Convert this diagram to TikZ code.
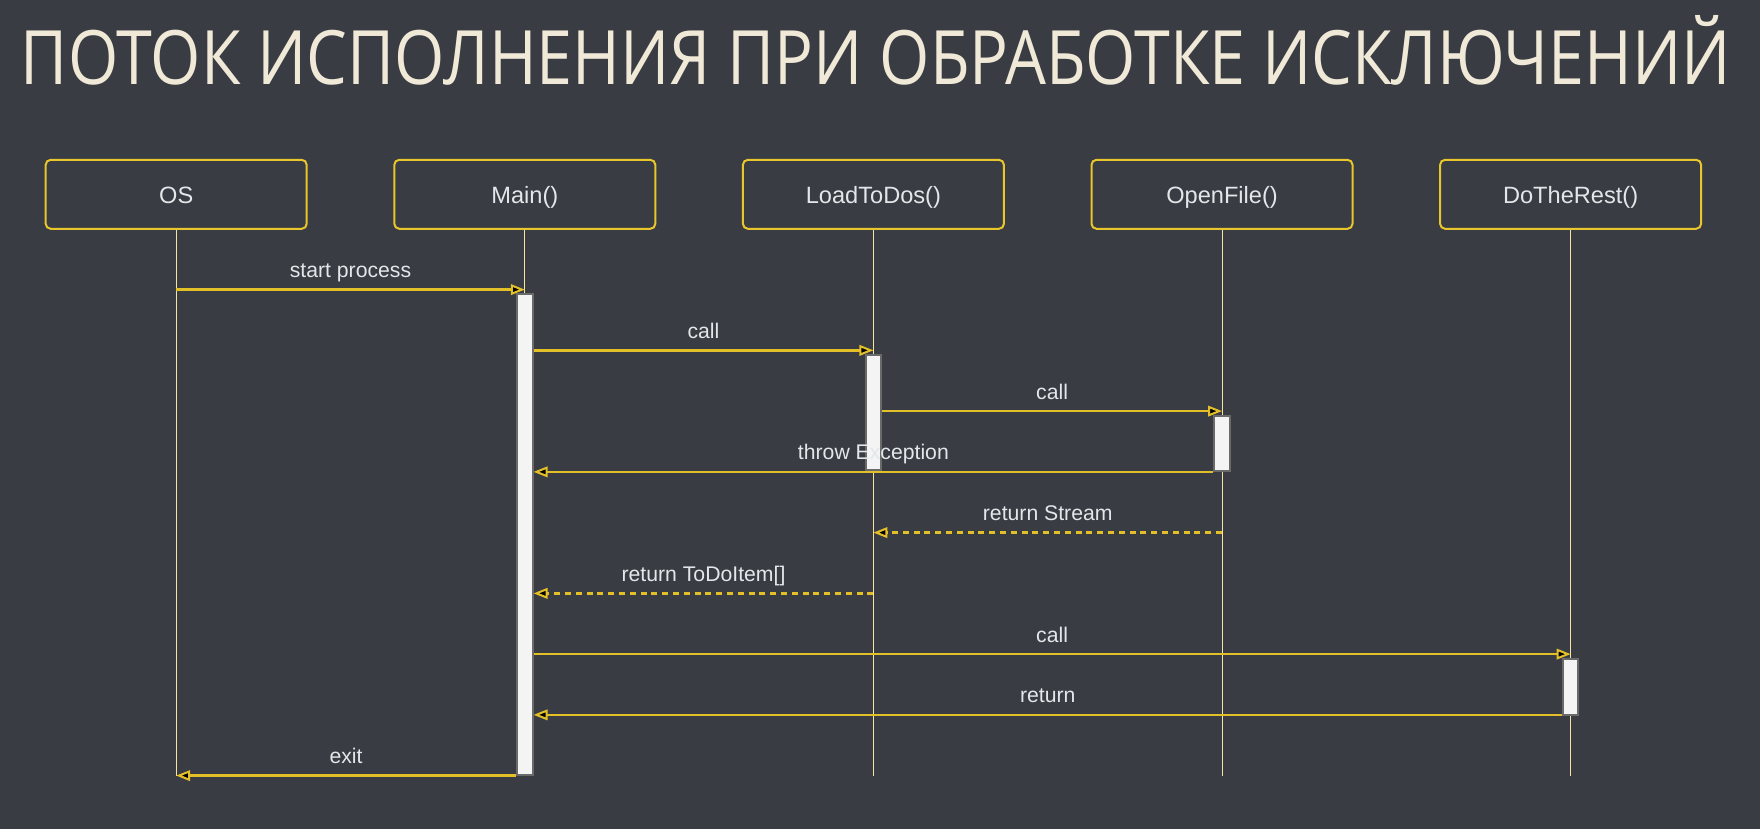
\documentclass[tikz,border=0pt]{standalone}
\usepackage{fontspec}
\usepackage{graphicx}
\usepackage{xcolor}
\setmainfont{Liberation Sans}
\newfontfamily\titlefont{Open Sans}
\usepackage{tikz}
\usetikzlibrary{arrows.meta, positioning}

\definecolor{slatebg}{RGB}{57,60,66}
\definecolor{titlecream}{RGB}{240,233,216}
\definecolor{boxgold}{RGB}{232,198,44}
\definecolor{msggold}{RGB}{228,192,40}
\definecolor{lifepale}{RGB}{246,228,160}
\definecolor{labelgrey}{RGB}{226,232,234}
\definecolor{barfill}{RGB}{244,244,244}
\definecolor{baredge}{RGB}{106,106,106}

\begin{document}
\begin{tikzpicture}[
    x=0.5pt, y=-0.5pt,
    every node/.style={font=\fontsize{10.6pt}{12pt}\selectfont, text=labelgrey},
    objbox/.style={draw=boxgold, line width=1pt, rounded corners=2.5pt,
        minimum width=130.5pt, minimum height=34.5pt, inner sep=0pt,
        text height=9.1pt, text depth=0pt, font=\fontsize{11.8pt}{14pt}\selectfont},
    lifeline/.style={lifepale, line width=0.5pt},
    actbar/.style={draw=baredge, fill=barfill, line width=1pt,
        minimum width=7.8pt, inner sep=0pt, anchor=north},
    msg/.style={msggold, line width=1.2pt,
        -{Triangle[length=7pt, width=5.3pt, fill=black, line width=1pt]}},
    reply/.style={msg, dash pattern=on 3pt off 2.4pt},
    msglabel/.style={midway, anchor=base, yshift=6pt},
    node distance=42.8pt
]

% 背景
\fill[slatebg] (0,0) rectangle (1760,829);

% 标题
\node[anchor=base west, inner sep=0pt, text=titlecream,
      font=\titlefont\fontsize{37.5pt}{40pt}\selectfont] (title) at (20.5,85)
      {\resizebox{855pt}{\height}{ПОТОК ИСПОЛНЕНИЯ ПРИ ОБРАБОТКЕ ИСКЛЮЧЕНИЙ}};

% 对象
\node[objbox] (os) at (176.2,194.3) {OS};
\node[objbox, right=of os]     (mainfn) {Main()};
\node[objbox, right=of mainfn] (loadfn) {LoadToDos()};
\node[objbox, right=of loadfn] (openfn) {OpenFile()};
\node[objbox, right=of openfn] (restfn) {DoTheRest()};

% 消息行
\foreach \i in {1,...,9} {
    \coordinate (r\i) at (0,{289.6+60.75*(\i-1)});
}

% 生命线
\foreach \obj in {os,mainfn,loadfn,openfn,restfn} {
    \draw[lifeline] (\obj.south) -- (\obj |- r9);
}

% 激活条
\node[actbar, minimum height=240.3pt, yshift=-1.85pt] (mainact) at (mainfn |- r1) {};
\node[actbar, minimum height=57.5pt,  yshift=-1.85pt] (loadact) at (loadfn |- r2) {};
\node[actbar, minimum height=27.5pt,  yshift=-1.8pt]  (openact) at (openfn |- r3) {};
\node[actbar, minimum height=28pt,    yshift=-2.1pt]  (restact) at (restfn |- r7) {};

% 消息
\draw[msg]   (os |- r1) -- node[msglabel] {start process} (mainfn |- r1);
\draw[msg]   (mainact.east |- r2) -- node[msglabel] {call} (loadfn |- r2);
\draw[msg]   (loadact.east |- r3) -- node[msglabel] {call} (openfn |- r3);
\draw[msg]   (openact.west |- r4) -- node[msglabel] {throw Exception} (mainact.east |- r4);
\draw[reply] (openfn |- r5) -- node[msglabel] {return Stream} (loadfn |- r5);
\draw[reply] (loadfn |- r6) -- node[msglabel] {return ToDoItem[]} (mainact.east |- r6);
\draw[msg]   (mainact.east |- r7) -- node[msglabel] {call} (restfn |- r7);
\draw[msg]   (restact.west |- r8) -- node[msglabel] {return} (mainact.east |- r8);
\draw[msg]   (mainact.west |- r9) -- node[msglabel] {exit} (os |- r9);

\end{tikzpicture}
\end{document}
